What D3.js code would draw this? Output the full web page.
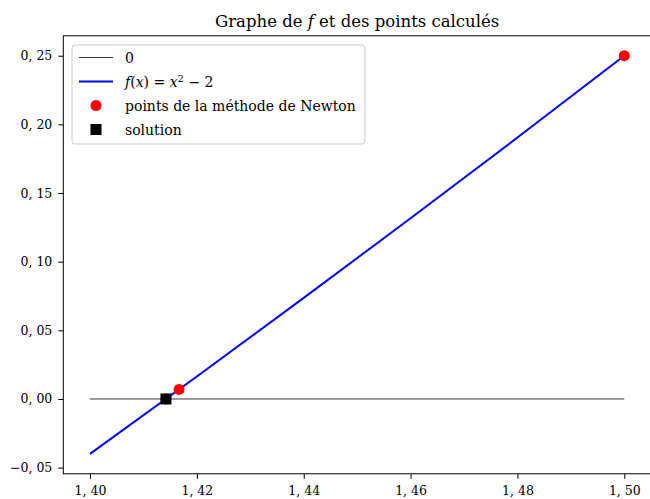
<!DOCTYPE html>
<html>
<head>
<meta charset="utf-8">
<script src="https://cdn.jsdelivr.net/npm/d3@7"></script>
<style>
  body { margin: 0; background: #fff; }
  text { font-family: "DejaVu Serif", "Liberation Serif", serif; }
</style>
</head>
<body>
<script>
const width = 650;
const height = 499;

// courbe f(x) = x^2 - 2 (valeurs lues)
const curveX = [1.40, 1.42, 1.44, 1.46, 1.48, 1.50];
const curveY = [-0.04, 0.0164, 0.0736, 0.1316, 0.1904, 0.25];

// ligne 0
const zeroX = [1.40, 1.50];
const zeroY = [0, 0];

// points de Newton
const newtonX = [1.5, 1.416667, 1.414216];
const newtonY = [0.25, 0.006944, 0.000006];

// solution
const solX = [1.414214];
const solY = [0];

const xTicks = [1.40, 1.42, 1.44, 1.46, 1.48, 1.50];
const yTicks = [-0.05, 0.00, 0.05, 0.10, 0.15, 0.20, 0.25];

const legendLabels = ["0", "f(x) = x² − 2", "points de la méthode de Newton", "solution"];

const margin = { top: 35.8, right: -1, bottom: 25.2, left: 63.3 };

const svg = d3.select("body")
    .append("svg")
    .attr("width", width)
    .attr("height", height);

const x = d3.scaleLinear()
    .domain([1.395, 1.505])
    .range([margin.left, width - margin.right]);

const y = d3.scaleLinear()
    .domain([-0.0545, 0.2645])
    .range([height - margin.bottom, margin.top]);

const fmt = (d) => d3.format(".2f")(d).replace(".", ", ").replace("-", "−");

// axes
const xAxis = svg.append("g")
    .attr("transform", `translate(0,${height - margin.bottom})`)
    .call(d3.axisBottom(x).tickValues(xTicks).tickSize(5).tickPadding(7).tickFormat(fmt));

const yAxis = svg.append("g")
    .attr("transform", `translate(${margin.left},0)`)
    .call(d3.axisLeft(y).tickValues(yTicks).tickSize(5).tickPadding(6).tickFormat(fmt));

[xAxis, yAxis].forEach((a) => {
    a.select(".domain").remove();
    a.selectAll("line").attr("stroke", "#000").attr("stroke-width", 1);
    a.selectAll("text").attr("fill", "#000").style("font-size", "12.5px");
});

// cadre
svg.append("rect")
    .attr("x", x.range()[0])
    .attr("y", y.range()[1])
    .attr("width", x.range()[1] - x.range()[0])
    .attr("height", y.range()[0] - y.range()[1])
    .attr("fill", "none")
    .attr("stroke", "#000")
    .attr("stroke-width", 1);

const line = d3.line().x((d) => x(d[0])).y((d) => y(d[1]));

svg.append("path")
    .datum(d3.zip(zeroX, zeroY))
    .attr("d", line)
    .attr("fill", "none")
    .attr("stroke", "#000")
    .attr("stroke-width", 0.8);

svg.append("path")
    .datum(d3.zip(curveX, curveY))
    .attr("d", line)
    .attr("fill", "none")
    .attr("stroke", "#0000ff")
    .attr("stroke-width", 2);

svg.selectAll(".newton")
    .data(d3.zip(newtonX, newtonY))
    .enter()
    .append("circle")
    .attr("class", "newton")
    .attr("cx", (d) => x(d[0]))
    .attr("cy", (d) => y(d[1]))
    .attr("r", 5.5)
    .attr("fill", "#ff0000");

const sq = 11;
svg.selectAll(".sol")
    .data(d3.zip(solX, solY))
    .enter()
    .append("rect")
    .attr("class", "sol")
    .attr("x", (d) => x(d[0]) - sq / 2)
    .attr("y", (d) => y(d[1]) - sq / 2)
    .attr("width", sq)
    .attr("height", sq)
    .attr("fill", "#000");

// titre
const title = svg.append("text")
    .attr("x", (x.range()[0] + x.range()[1]) / 2)
    .attr("y", 26.5)
    .attr("text-anchor", "middle")
    .style("font-size", "16.5px");
title.append("tspan").text("Graphe de ");
title.append("tspan").style("font-style", "italic").text("f");
title.append("tspan").text(" et des points calculés");

// légende
const legend = svg.append("g").attr("transform", "translate(72,45)");
legend.append("rect")
    .attr("width", 293)
    .attr("height", 99)
    .attr("rx", 3)
    .attr("fill", "#fff")
    .attr("fill-opacity", 0.8)
    .attr("stroke", "#cccccc");

const rowY = (i) => 12.5 + i * 24;

legend.append("line")
    .attr("x1", 7).attr("x2", 41)
    .attr("y1", rowY(0)).attr("y2", rowY(0))
    .attr("stroke", "#000").attr("stroke-width", 0.8);
legend.append("line")
    .attr("x1", 7).attr("x2", 41)
    .attr("y1", rowY(1)).attr("y2", rowY(1))
    .attr("stroke", "#0000ff").attr("stroke-width", 2);
legend.append("circle")
    .attr("cx", 24).attr("cy", rowY(2))
    .attr("r", 5.5).attr("fill", "#ff0000");
legend.append("rect")
    .attr("x", 24 - sq / 2).attr("y", rowY(3) - sq / 2)
    .attr("width", sq).attr("height", sq).attr("fill", "#000");

legendLabels.forEach((lab, i) => {
    const t = legend.append("text")
        .attr("x", 53)
        .attr("y", rowY(i) + 5)
        .style("font-size", "14px");
    if (i === 1) {
        t.append("tspan").style("font-style", "italic").text("f");
        t.append("tspan").text("(");
        t.append("tspan").style("font-style", "italic").text("x");
        t.append("tspan").text(") = ");
        t.append("tspan").style("font-style", "italic").text("x");
        t.append("tspan").attr("dy", -5).style("font-size", "10px").text("2");
        t.append("tspan").attr("dy", 5).text(" − 2");
    } else {
        t.text(lab);
    }
});
</script>
</body>
</html>
